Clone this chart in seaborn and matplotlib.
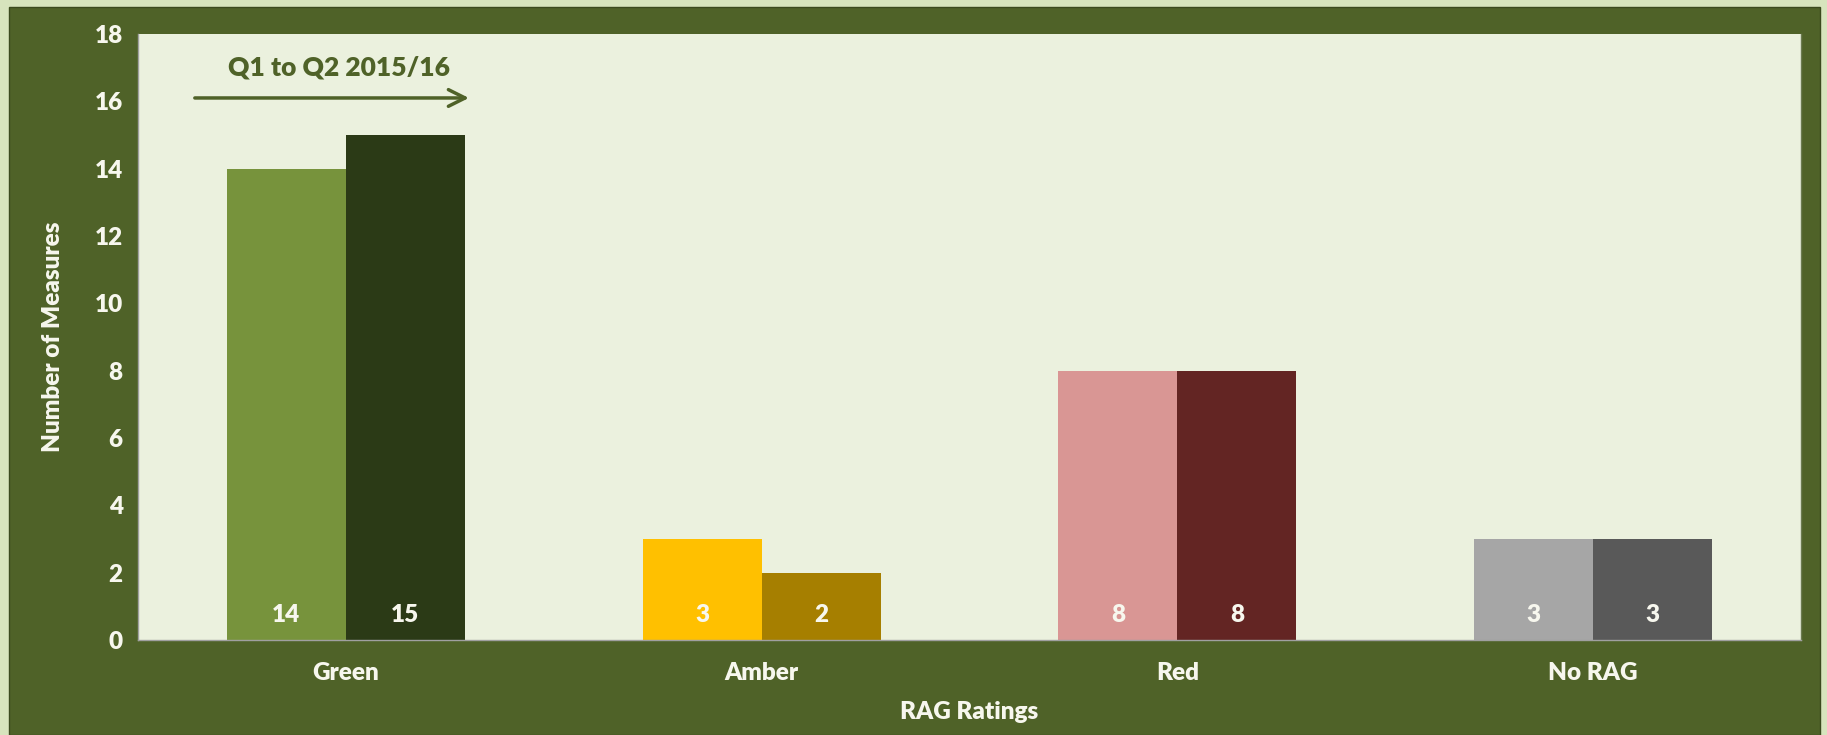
import matplotlib
matplotlib.use("Agg")
import matplotlib.pyplot as plt
import seaborn as sns
import pandas as pd
from matplotlib.patches import Rectangle

categories = ["Green", "Amber", "Red", "No RAG"]
periods = ["Q1 2015/16", "Q2 2015/16"]
q1_values = [14, 3, 8, 3]
q2_values = [15, 2, 8, 3]
q1_colors = ["#77933c", "#ffc000", "#d99694", "#a6a6a6"]
q2_colors = ["#2b3a16", "#a67f00", "#632523", "#595959"]
y_ticks = [0, 2, 4, 6, 8, 10, 12, 14, 16, 18]

df = pd.DataFrame({
    "RAG": categories * 2,
    "Count": q1_values + q2_values,
    "Period": [periods[0]] * 4 + [periods[1]] * 4,
})

sns.set_theme(style="white")
plt.rcParams["font.family"] = ["Lato", "DejaVu Sans"]

PANEL = "#4f6228"
PLOT_BG = "#ebf1de"
OUTER = "#d7e4bd"
TXT = "#f7f7ee"
FS = 17.5
W = "heavy"

fig = plt.figure(figsize=(18.27, 7.35), dpi=100, facecolor=OUTER)
fig.add_artist(Rectangle((9 / 1827, 0), (1820 - 9) / 1827, (735 - 7) / 735,
                         transform=fig.transFigure, facecolor=PANEL,
                         edgecolor="#3b4a1e", linewidth=1, zorder=-10))

ax = fig.add_axes([138 / 1827, (735 - 640) / 735, (1801 - 138) / 1827, (640 - 34) / 735])
ax.set_zorder(1)
ax.set_facecolor(PLOT_BG)

sns.barplot(data=df, x="RAG", y="Count", hue="Period", order=categories,
            hue_order=periods, width=0.572, gap=0, legend=False, ax=ax,
            saturation=1, linewidth=0)

bars = [p for p in ax.patches]
colors = q1_colors + q2_colors
for p, c in zip(bars, colors):
    p.set_facecolor(c)
    p.set_edgecolor(c)

for p in bars:
    cx = p.get_x() + p.get_width() / 2
    ax.text(cx, 0.73, f"{int(round(p.get_height()))}", ha="center", va="center",
            color=TXT, fontsize=FS, fontweight=W)

ax.set_xlim(-0.5, 3.5)
ax.set_ylim(0, 18)
ax.set_yticks(y_ticks)
ax.set_yticklabels([str(t) for t in y_ticks], color=TXT, fontsize=FS, fontweight=W)
ax.set_xticks([-0.5, 0.5, 1.5, 2.5, 3.5])
ax.set_xticklabels([])
ax.set_xticks([0, 1, 2, 3], minor=True)
ax.set_xticklabels(categories, minor=True, color=TXT, fontsize=FS, fontweight=W)
ax.tick_params(axis="x", which="major", length=7, color="#a0a0a0", width=1, direction="out")
ax.tick_params(axis="x", which="minor", length=0, pad=16)
ax.tick_params(axis="y", length=5, color="#a0a0a0", width=1, direction="out", pad=6)

for s in ["left", "bottom"]:
    ax.spines[s].set_color("#a0a0a0")
    ax.spines[s].set_linewidth(1)
ax.spines["top"].set_visible(False)
ax.spines["right"].set_color("#6b7a50")
ax.spines["right"].set_linewidth(1)

ax.set_xlabel("RAG Ratings", color=TXT, fontsize=FS, fontweight=W, labelpad=12)
ax.set_ylabel("Number of Measures", color=TXT, fontsize=FS, fontweight=W, labelpad=22)

ax.annotate("", xy=(0.3027, 16.1), xytext=(-0.37, 16.1),
            arrowprops=dict(arrowstyle="->", color=PANEL, lw=2.5, mutation_scale=30))
ax.text(-0.017, 17.0, "Q1 to Q2 2015/16", ha="center", va="center", color=PANEL,
        fontsize=19, fontweight=W)

fig.savefig("out.png", dpi=100, facecolor=OUTER)
